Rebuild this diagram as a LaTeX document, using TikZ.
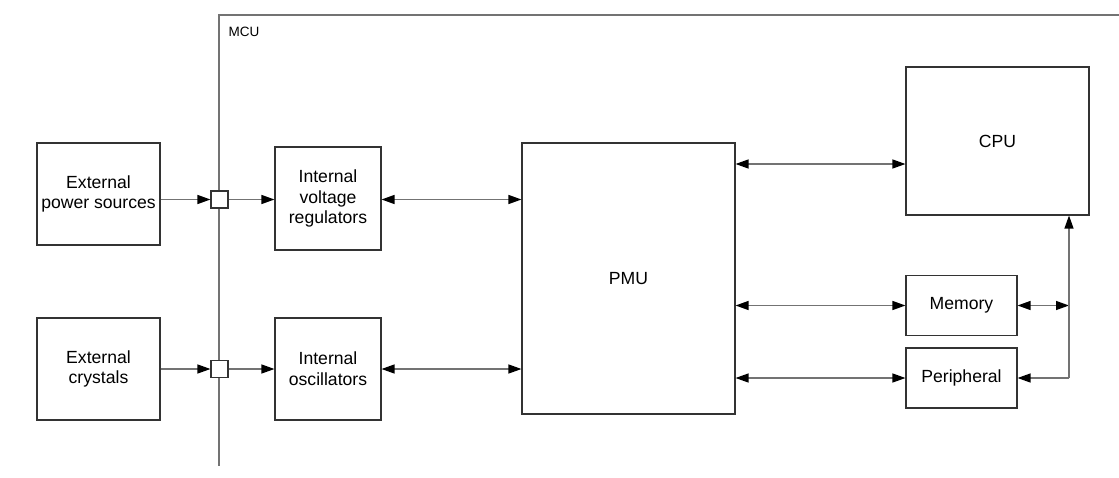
\documentclass[tikz,border=0pt]{standalone}
\usepackage{fontspec}
\setmainfont{Liberation Sans}
\usetikzlibrary{arrows.meta}
\begin{document}
\begin{tikzpicture}[x=1pt,y=-1pt,
  conn/.style={draw=black!55, line width=1.3pt},
  tip/.tip={Triangle[length=13pt,width=9pt,fill=black,color=black]},
  arr/.style={conn, -tip},
  darr/.style={conn, tip-tip},
  blk/.style={draw=black!80, line width=1.1pt, fill=white, align=center, inner sep=0pt,
    font=\fontsize{17.6}{20.8}\selectfont},
  pinbox/.style={draw=black!80, line width=1.1pt, fill=white, minimum size=17pt, inner sep=0pt}]
\useasboundingbox (0,0) rectangle (1119,477);
% MCU frame
\coordinate (frtr) at (1119,15);
\coordinate (frtl) at (219,15);
\coordinate (frbl) at (219,466);
\draw[conn] (frtr) -- (frtl) -- (frbl);
\node[anchor=west, font=\fontsize{13.5}{16}\selectfont] (mcu) at (225,32) {MCU};
% blocks
\node[blk, minimum width=123pt, minimum height=102pt] (eps) at (98.5,194) {External\\power sources};
\node[blk, minimum width=123pt, minimum height=102pt] (ecr) at (98.5,369) {External\\crystals};
\node[pinbox] (pin1) at (219.5,199.5) {};
\node[pinbox] (pin2) at (219.5,369) {};
\node[blk, minimum width=106pt, minimum height=103pt] (ivr) at (328,198.5) {Internal\\voltage\\regulators};
\node[blk, minimum width=106pt, minimum height=102pt] (osc) at (328,369) {Internal\\oscillators};
\node[blk, minimum width=213pt, minimum height=271pt] (pmu) at (628.5,278.5) {PMU};
\node[blk, minimum width=183pt, minimum height=148pt] (cpu) at (997.5,141) {CPU};
\node[blk, minimum width=111pt, minimum height=60pt] (mem) at (961.5,305.5) {Memory};
\node[blk, minimum width=111pt, minimum height=60pt] (peri) at (961.5,378) {Peripheral};
% connectors
\draw[arr] (eps.east |- pin1.west) -- (pin1.west);
\draw[arr] (pin1.east) -- (ivr.west |- pin1.east);
\draw[darr] (ivr.east |- pin1.east) -- (pmu.west |- pin1.east);
\draw[arr] (ecr.east |- pin2.west) -- (pin2.west);
\draw[arr] (pin2.east) -- (osc.west |- pin2.east);
\draw[darr] (osc.east |- pin2.east) -- (pmu.west |- pin2.east);
\coordinate (cpuy) at (0,164);
\draw[darr] (pmu.east |- cpuy) -- (cpu.west |- cpuy);
\draw[darr] (pmu.east |- mem.west) -- (mem.west);
\draw[darr] (pmu.east |- peri.west) -- (peri.west);
\coordinate (busm) at (1069,305.5);
\coordinate (busb) at (1069,378);
\draw[darr] (mem.east) -- (busm);
\draw[arr] (busb) -- (peri.east);
\draw[arr] (busb) -- (cpu.south -| busb);
\end{tikzpicture}
\end{document}
